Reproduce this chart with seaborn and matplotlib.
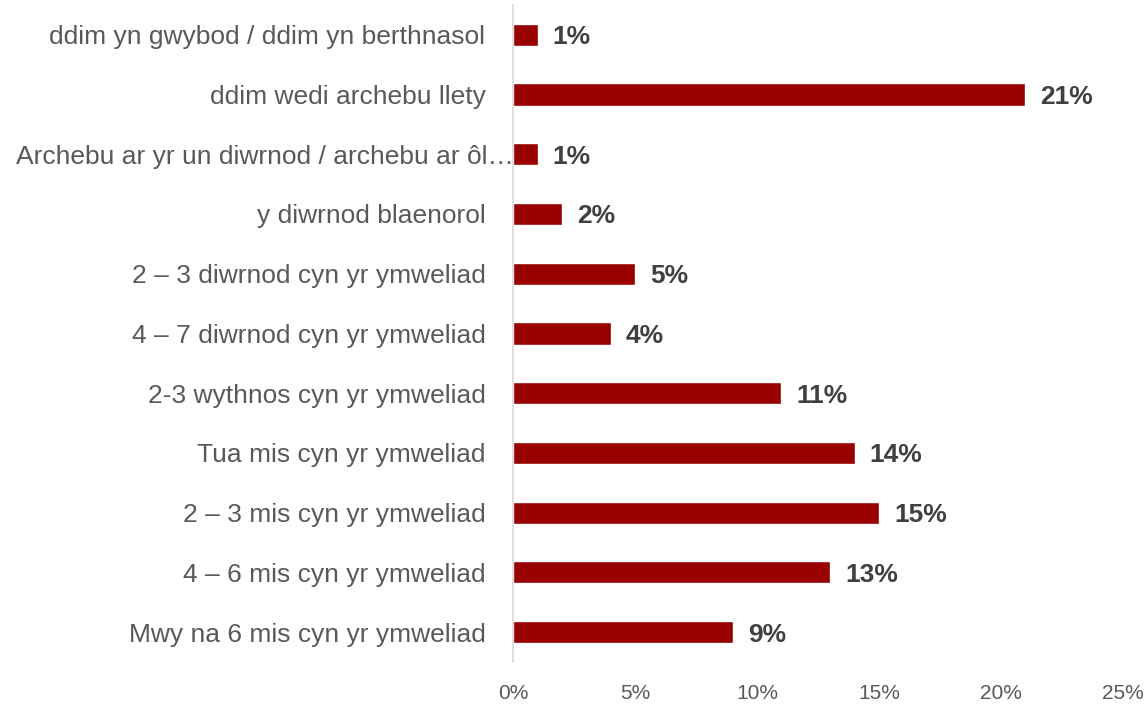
import matplotlib
matplotlib.use("Agg")
import matplotlib.pyplot as plt
import matplotlib.transforms as mtransforms
import seaborn as sns
import pandas as pd

categories = [
    "ddim yn gwybod / ddim yn berthnasol",
    "ddim wedi archebu llety",
    "Archebu ar yr un diwrnod / archebu ar ôl…",
    "y diwrnod blaenorol",
    "2 – 3 diwrnod cyn yr ymweliad",
    "4 – 7 diwrnod cyn yr ymweliad",
    "2-3 wythnos cyn yr ymweliad",
    "Tua mis cyn yr ymweliad",
    "2 – 3 mis cyn yr ymweliad",
    "4 – 6 mis cyn yr ymweliad",
    "Mwy na 6 mis cyn yr ymweliad",
]
values = [1, 21, 1, 2, 5, 4, 11, 14, 15, 13, 9]
xticks = [0, 5, 10, 15, 20, 25]

df = pd.DataFrame({"cat": categories, "val": values})

sns.set_style("white")
plt.rcParams["font.family"] = ["Liberation Sans", "DejaVu Sans"]

fig = plt.figure(figsize=(11.48, 7.05), dpi=100)
ax = fig.add_axes([0.447, 0.061, 0.531, 0.932])

sns.barplot(data=df, x="val", y="cat", orient="h", color="#990000",
            width=0.37, saturation=1, ax=ax)

ax.set_xlim(0, 25)
ax.set_ylim(10.5, -0.5)
ax.set_xticks(xticks)
ax.set_xticklabels([f"{t}%" for t in xticks], color="#595959", fontsize=15)
ax.set_xlabel(""); ax.set_ylabel("")
for s in ["top", "right", "bottom"]:
    ax.spines[s].set_visible(False)
ax.spines["left"].set_color("#d9d9d9")
ax.spines["left"].set_linewidth(1.2)
ax.tick_params(axis="y", length=0, pad=20, labelsize=19, labelcolor="#595959")
ax.tick_params(axis="x", length=0, pad=16)

# long label sits closer to the axis, as in the original
for lab in ax.get_yticklabels():
    if lab.get_text().startswith("Archebu"):
        lab.set_transform(lab.get_transform() +
                          mtransforms.ScaledTranslation(28 / 100, 0, fig.dpi_scale_trans))

for i, v in enumerate(values):
    ax.annotate(f"{v}%", (v, i), xytext=(11, 0), textcoords="offset points",
                va="center_baseline", ha="left", fontsize=19, fontweight="bold",
                color="#404040")

fig.savefig("out.png", dpi=100)
